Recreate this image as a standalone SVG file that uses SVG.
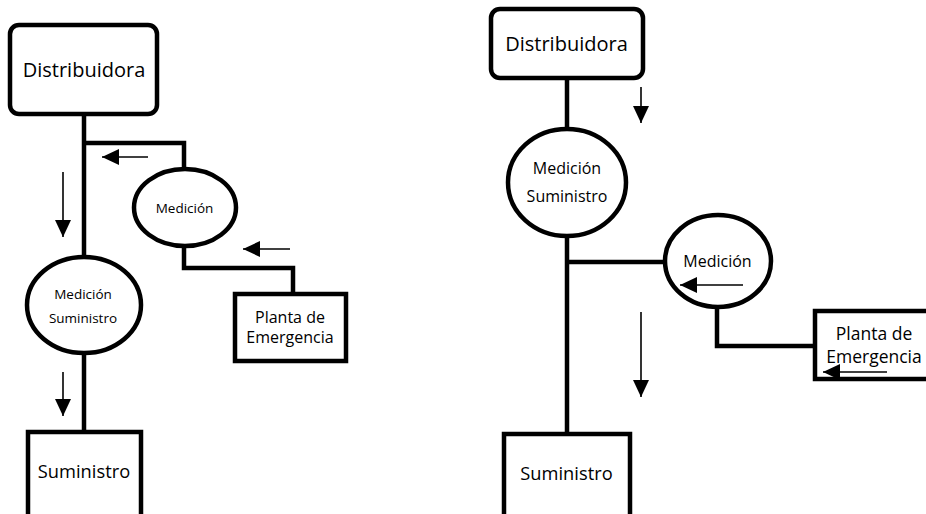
<svg xmlns="http://www.w3.org/2000/svg" width="926" height="514" viewBox="0 0 926 514">
<style>
.node{fill:#fff;stroke:#000;stroke-width:4.5}
.wire{fill:none;stroke:#000;stroke-width:4.5;stroke-linejoin:miter}
.flow{fill:none;stroke:#000;stroke-width:1.6;marker-end:url(#ah)}
text{font-family:"Open Sans","Liberation Sans",sans-serif;fill:#000;text-anchor:middle}
.t20{font-size:20px}.t18{font-size:18.3px}.t17{font-size:17.5px}.t16{font-size:16px}.t13{font-size:13.5px}
</style>
<defs>
<marker id="ah" markerUnits="userSpaceOnUse" markerWidth="17" markerHeight="16" refX="17" refY="8" orient="auto">
<path d="M0,0 L17,8 L0,16 z" fill="#000"/>
</marker>
</defs>
<rect width="926" height="514" fill="#fff"/>
<g id="distribuidora-left">
<rect class="node" x="10" y="25" width="147" height="89" rx="9"/>
<text class="t20" x="84" y="77">Distribuidora</text>
</g>
<g id="medicion-left">
<ellipse class="node" cx="185" cy="207.5" rx="51" ry="38.5"/>
<text class="t13" x="184.5" y="213">Medición</text>
</g>
<g id="medicion-suministro-left">
<ellipse class="node" cx="84" cy="305" rx="57" ry="48"/>
<text class="t13" x="83" y="299">Medición</text>
<text class="t13" x="83" y="323">Suministro</text>
</g>
<g id="planta-left">
<rect class="node" x="235" y="294" width="111" height="67"/>
<text class="t16" x="290" y="323">Planta de</text>
<text class="t16" x="290" y="343">Emergencia</text>
</g>
<g id="suministro-left">
<rect class="node" x="28" y="432" width="113" height="100"/>
<text class="t18" x="84" y="478">Suministro</text>
</g>
<g id="distribuidora-right">
<rect class="node" x="491" y="9" width="152" height="69" rx="9"/>
<text class="t20" x="566.5" y="51">Distribuidora</text>
</g>
<g id="medicion-suministro-right">
<ellipse class="node" cx="567" cy="182.5" rx="59" ry="53.5"/>
<text class="t16" x="567" y="174">Medición</text>
<text class="t16" x="567" y="202">Suministro</text>
</g>
<g id="medicion-right">
<ellipse class="node" cx="718" cy="261" rx="53" ry="46"/>
<text class="t16" x="717.5" y="267">Medición</text>
</g>
<g id="planta-right">
<rect class="node" x="815" y="311" width="150" height="68"/>
<text class="t17" x="874" y="340">Planta de</text>
<text class="t17" x="874" y="363">Emergencia</text>
</g>
<g id="suministro-right">
<rect class="node" x="504" y="434" width="126" height="100"/>
<text class="t18" x="566.5" y="480">Suministro</text>
</g>
<g id="connectors">
<path class="wire" d="M84 114 V257"/>
<path class="wire" d="M84 353 V432"/>
<path class="wire" d="M84 143 H184 V169"/>
<path class="wire" d="M184 246 V268 H293 V294"/>
<path class="wire" d="M567 78 V129"/>
<path class="wire" d="M567 236 V434"/>
<path class="wire" d="M567 262 H665"/>
<path class="wire" d="M717 307 V346 H815"/>
<path class="flow" d="M148 157 H102"/>
<path class="flow" d="M63 172 V237"/>
<path class="flow" d="M290 249 H243"/>
<path class="flow" d="M63 372 V416"/>
<path class="flow" d="M641 87 V123"/>
<path class="flow" d="M743 285 H680"/>
<path class="flow" d="M641 312 V397"/>
<path class="flow" d="M887 372 H823"/>
</g>
</svg>
